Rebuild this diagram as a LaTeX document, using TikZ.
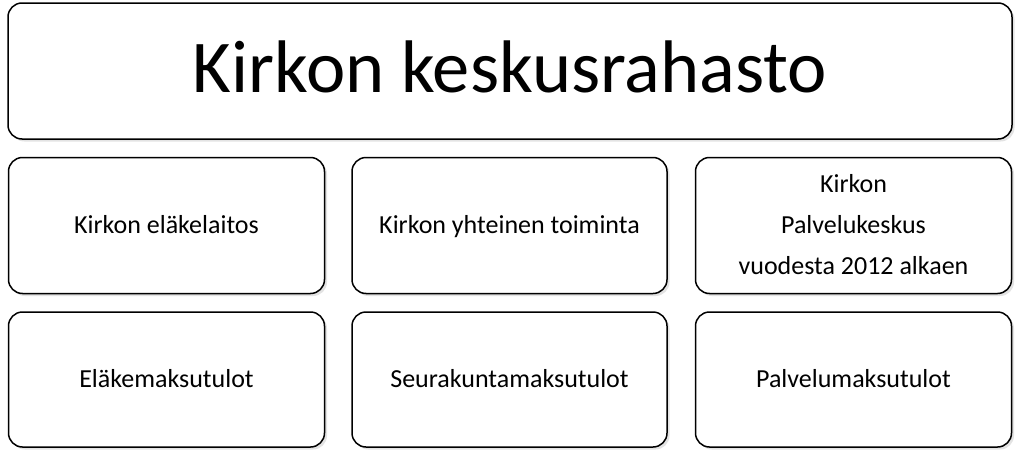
\documentclass[tikz,border=0pt]{standalone}
\usepackage{fontspec}
\setmainfont{Carlito}
\usetikzlibrary{shadows}
\tikzset{
  x=1pt,y=-1pt,
  box/.style={draw=black,line width=1.5pt,rounded corners=14pt,fill=white,
    inner sep=0pt,
    drop shadow={shadow xshift=2.5pt,shadow yshift=-2.5pt,opacity=0.22,fill=gray}},
  smallbox/.style={box,minimum width=316pt,minimum height=136pt},
  txt/.style={align=center,inner sep=0pt,anchor=base,font=\fontsize{26}{41}\selectfont},
  bigtxt/.style={align=center,inner sep=0pt,anchor=base,font=\fontsize{74.5}{80}\selectfont}
}
% #1 style, #2 box name, #3 offset of the last baseline below the box centre, #4 text
\newcommand\boxtext[4]{%
  \node[#1] (#2-t) at ([yshift=-#3 pt]#2.center) {#4};}
\begin{document}
\begin{tikzpicture}
\useasboundingbox[fill=white] (0,0) rectangle (1021,458);
\node[box,minimum width=1004pt,minimum height=136pt] (top) at (510,71) {};
\node[smallbox] (a1) at (166.5,225.5) {};
\node[smallbox,minimum width=315pt] (a2) at (509.5,225.5) {};
\node[smallbox] (a3) at (853.5,225.5) {};
\node[smallbox,minimum height=135pt] (b1) at (166.5,379.5) {};
\node[smallbox,minimum width=315pt,minimum height=135pt] (b2) at (509.5,379.5) {};
\node[smallbox,minimum height=135pt] (b3) at (853.5,379.5) {};
\boxtext{bigtxt}{top}{21}{Kirkon keskusrahasto}
\boxtext{txt}{a1}{7.5}{Kirkon eläkelaitos}
\boxtext{txt}{a2}{7.5}{Kirkon yhteinen toiminta}
\boxtext{txt}{a3}{48.5}{Kirkon\\Palvelukeskus\\vuodesta 2012 alkaen}
\boxtext{txt}{b1}{7.5}{Eläkemaksutulot}
\boxtext{txt}{b2}{7.5}{Seurakuntamaksutulot}
\boxtext{txt}{b3}{7.5}{Palvelumaksutulot}
\end{tikzpicture}
\end{document}
